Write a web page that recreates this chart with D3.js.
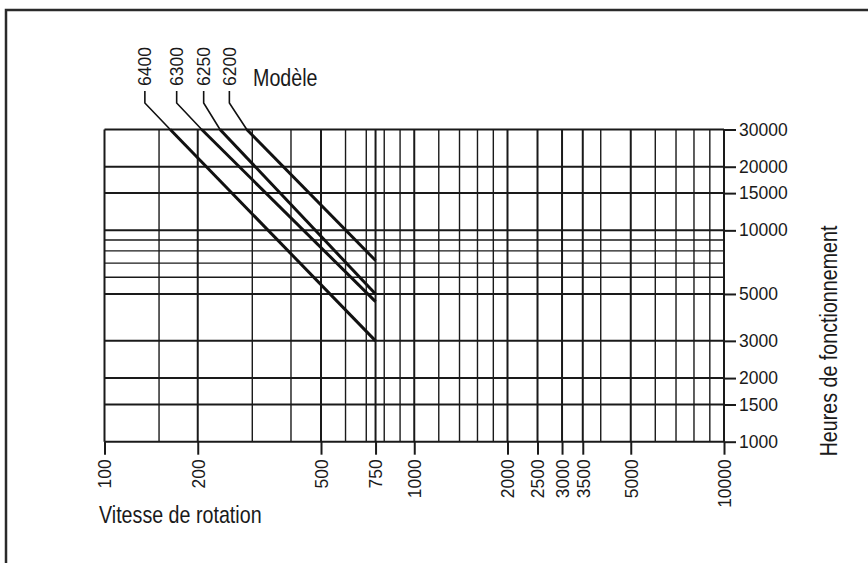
<!DOCTYPE html>
<html>
<head>
<meta charset="utf-8">
<script src="https://cdn.jsdelivr.net/npm/d3@7"></script>
<style>
  html, body { margin: 0; padding: 0; background: #fff; }
  svg { display: block; }
</style>
</head>
<body>
<svg id="chart" width="868" height="563"></svg>
<script>
// Bearing service life vs rotation speed (log-log), one line per model.
const models = ["6400", "6300", "6250", "6200"];
// speed (rpm) where each line meets the 30000 h border
const rpmAtTop = [163, 206, 236, 288];
// service life (h) at the 750 rpm end of each line
const hoursAtEnd = [3000, 4600, 5000, 7200];
const rpmEnd = 750;
// speed (rpm) of each model's label and leader
const labelRpm = [135, 171, 209, 253];

const rpmTicks = [100, 200, 500, 750, 1000, 2000, 2500, 3000, 3500, 5000, 10000];
const rpmGrid = [100, 150, 200, 300, 400, 500, 600, 700, 750, 800, 900, 1000,
                 1200, 1400, 1600, 1800, 2000, 2500, 3000, 3500, 4000, 5000,
                 6000, 7000, 8000, 9000, 10000];
const hourTicks = [1000, 1500, 2000, 3000, 5000, 10000, 15000, 20000, 30000];
const hourGrid = [1000, 1500, 2000, 3000, 5000, 6000, 7000, 8000, 9000, 10000,
                  15000, 20000, 30000];

const svg = d3.select("#chart");
const FONT = "'Liberation Sans', Arial, Helvetica, sans-serif";
const INK = "#1a1a1a";

const plotL = 104.5, plotR = 724, plotT = 129.5, plotB = 441.7;
const x = d3.scaleLog().domain([100, 10000]).range([plotL, plotR]);
const y = d3.scaleLog().domain([1000, 30000]).range([plotB, plotT]);

// outer frame
svg.append("rect")
  .attr("x", 6).attr("y", 10).attr("width", 900).attr("height", 600)
  .attr("fill", "none").attr("stroke", "#2a2a2a").attr("stroke-width", 2.5);

// grid
const g = svg.append("g");
g.selectAll("line.v").data(rpmGrid).join("line")
  .attr("class", "v")
  .attr("x1", d => x(d)).attr("x2", d => x(d))
  .attr("y1", plotT).attr("y2", plotB)
  .attr("stroke", INK)
  .attr("stroke-width", d => rpmTicks.includes(d) ? 2 : 1.4);
g.selectAll("line.h").data(hourGrid).join("line")
  .attr("class", "h")
  .attr("x1", plotL).attr("x2", plotR)
  .attr("y1", d => y(d)).attr("y2", d => y(d))
  .attr("stroke", INK)
  .attr("stroke-width", d => hourTicks.includes(d) ? 2 : 1.4);

// bottom axis: rotated speed labels
const ax = svg.append("g")
  .attr("transform", `translate(0,${plotB})`)
  .call(d3.axisBottom(x).tickValues(rpmTicks).tickSize(13).tickFormat(d3.format("d")));
ax.select(".domain").remove();
ax.selectAll(".tick line").attr("stroke", INK).attr("stroke-width", 2);
ax.selectAll(".tick text")
  .attr("transform", "rotate(-90)")
  .attr("text-anchor", "end")
  .attr("x", -17.5).attr("y", 0).attr("dy", "0.36em")
  .attr("font-family", FONT).attr("font-size", 17.5).attr("fill", INK);

// right axis: hours labels
const ay = svg.append("g")
  .attr("transform", `translate(${plotR},0)`)
  .call(d3.axisRight(y).tickValues(hourTicks).tickSize(12).tickPadding(3).tickFormat(d3.format("d")));
ay.select(".domain").remove();
ay.selectAll(".tick line").attr("stroke", INK).attr("stroke-width", 2);
ay.selectAll(".tick text")
  .attr("font-family", FONT).attr("font-size", 17.5).attr("fill", INK);

// model lines
const lines = models.map((m, i) => ({
  model: m,
  pts: [[rpmAtTop[i], 30000], [rpmEnd, hoursAtEnd[i]]],
  labelRpm: labelRpm[i]
}));
const lineGen = d3.line().x(d => x(d[0])).y(d => y(d[1]));
svg.append("g").selectAll("path").data(lines).join("path")
  .attr("d", d => lineGen(d.pts))
  .attr("fill", "none").attr("stroke", "#111").attr("stroke-width", 3)
  .attr("stroke-linecap", "butt");

// leaders from labels down to the lines
const labelBase = 86, bendY = 103;
svg.append("g").selectAll("path").data(lines).join("path")
  .attr("d", d => `M${x(d.labelRpm)},${labelBase + 5}V${bendY}L${x(d.pts[0][0])},${plotT}`)
  .attr("fill", "none").attr("stroke", "#111").attr("stroke-width", 1.6);

svg.append("g").selectAll("text").data(lines).join("text")
  .attr("transform", d => `translate(${x(d.labelRpm)},${labelBase}) rotate(-90)`)
  .attr("dy", "0.36em")
  .attr("font-family", FONT).attr("font-size", 17.5).attr("fill", INK)
  .text(d => d.model);

// titles (condensed)
function condensed(tx, rot, anchor, txt) {
  svg.append("text")
    .attr("transform", `${tx}${rot ? " rotate(-90)" : ""} scale(0.82,1)`)
    .attr("text-anchor", anchor)
    .attr("font-family", FONT).attr("font-size", 24).attr("fill", INK)
    .text(txt);
}
condensed("translate(253,86)", false, "start", "Modèle");
condensed("translate(99,523)", false, "start", "Vitesse de rotation");
condensed("translate(837,341)", true, "middle", "Heures de fonctionnement");
</script>
</body>
</html>
